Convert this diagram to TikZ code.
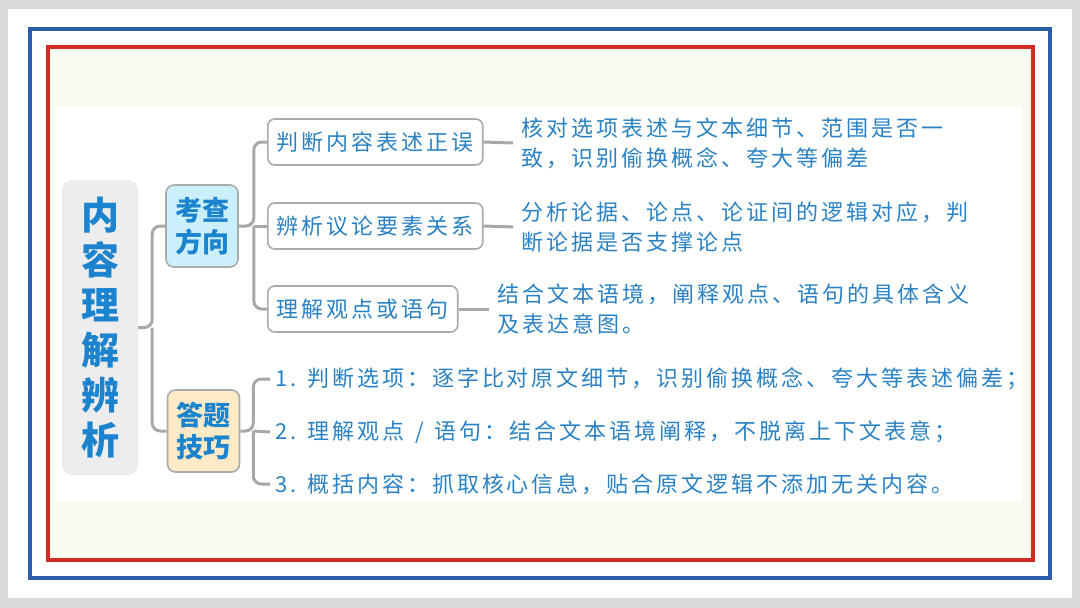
\documentclass[tikz,border=0pt]{standalone}
\usepackage{fontspec}
\setmainfont{Noto Sans CJK SC}
\newfontfamily\cjk[LetterSpace=13.6]{Noto Sans CJK SC}
\usetikzlibrary{calc}
\definecolor{textblue}{HTML}{2A82C4}
\definecolor{rootblue}{HTML}{1C84CF}
\definecolor{linegray}{HTML}{A8A8A8}
\definecolor{boxgray}{HTML}{ABABAB}
\definecolor{framered}{HTML}{D42A26}
\definecolor{frameblue}{HTML}{2A5CA8}
\definecolor{cream}{HTML}{FAFBEF}
\tikzstyle{conn}=[draw=linegray, line width=3pt, rounded corners=8pt]
\tikzstyle{head}=[rectangle, rounded corners=8pt, draw=boxgray, line width=1.6pt, minimum width=72pt, minimum height=82pt, inner sep=0pt, align=center, text=rootblue, font=\bfseries\fontsize{27}{32}\selectfont]
\tikzstyle{leaf}=[rectangle, rounded corners=7pt, draw=boxgray, line width=1.6pt, fill=white, inner xsep=9pt, minimum height=46pt, anchor=west, text=textblue, font=\cjk\fontsize{22}{26}\selectfont]
\tikzstyle{desc}=[align=left, anchor=west, inner xsep=8pt, inner ysep=0pt, text=textblue, font=\cjk\fontsize{22}{30}\selectfont]
\newcommand{\drawframes}[0]
{
	\fill[black!15] (0,0) rectangle (1080,608);
	\fill[white] (8,9) rectangle (1072,598);
	\draw[frameblue, line width=4pt] (30,29) rectangle (1050,578);
	\draw[framered, line width=4pt, fill=cream] (48,47) rectangle (1033,560);
	\fill[white] (56,106) rectangle (1022,502);
}

\begin{document}
\begin{tikzpicture}[x=1pt, y=-1pt]
	\useasboundingbox (0,0) rectangle (1080,608);
	\drawframes{}

	\node[rectangle, rounded corners=10pt, fill=black!7, minimum width=76pt, minimum height=295pt, align=center, text=rootblue, font=\bfseries\fontsize{38}{45}\selectfont](root) at (100,327.5){内\\容\\理\\解\\辨\\析};

	\node[head, fill=cyan!20](dir) at (202,226){考查\\方向};
	\node[head, fill=yellow!25!orange!20](tips) at (203.5,431){答题\\技巧};

	\node[leaf](a1) at (267,142){判断内容表述正误};
	\node[leaf](a2) at (267,226){辨析议论要素关系};
	\node[leaf](a3) at (267,309){理解观点或语句};

	\node[desc](d1) at (513,143){核对选项表述与文本细节、范围是否一\\致，识别偷换概念、夸大等偏差};
	\node[desc](d2) at (513,227){分析论据、论点、论证间的逻辑对应，判\\断论据是否支撑论点};
	\node[desc](d3) at (489,309){结合文本语境，阐释观点、语句的具体含义\\及表达意图。};

	\node[desc, inner xsep=5pt](t1) at (270,379){1. 判断选项：逐字比对原文细节，识别偷换概念、夸大等表述偏差；};
	\node[desc, inner xsep=5pt](t2) at (270,432){2. 理解观点\hspace{11pt}/\hspace{11pt}语句：结合文本语境阐释，不脱离上下文表意；};
	\node[desc, inner xsep=5pt](t3) at (270,484){3. 概括内容：抓取核心信息，贴合原文逻辑不添加无关内容。};

	% tree lines
	\draw[conn] (root.east) -- ++(14,0) coordinate (rj) |- (dir.west);
	\draw[conn] (rj) |- (tips.west);
	\draw[conn] (dir.east) -- ++(15,0) coordinate (dj) |- (a1.west);
	\draw[conn] (dj) |- (a3.west);
	\draw[conn] (dj) -- (a2.west);
	\draw[conn] (tips.east) -- ++(13,0) coordinate (tj) |- (t1.west);
	\draw[conn] (tj) |- (t3.west);
	\draw[conn] (tj) -- (t2.west);
	\draw[conn] (a1.east) -- (d1.west);
	\draw[conn] (a2.east) -- (d2.west);
	\draw[conn] (a3.east) -- (d3.west);

\end{tikzpicture}
\end{document}
